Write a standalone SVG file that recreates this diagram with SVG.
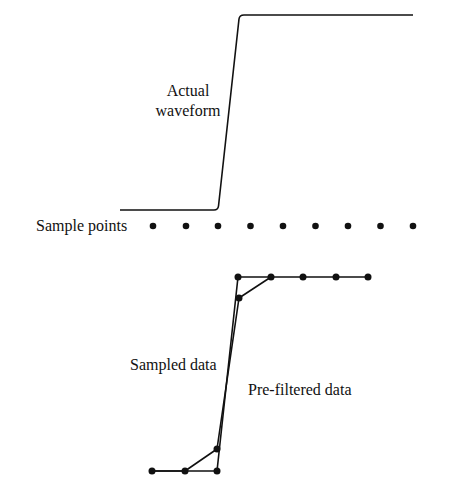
<svg xmlns="http://www.w3.org/2000/svg" width="456" height="487" viewBox="0 0 456 487">
<style>
.t{font-family:"Liberation Serif","Times New Roman",serif;font-size:16px;fill:#111}
.w{fill:none;stroke:#111;stroke-width:1.6;stroke-linejoin:round}
.d{fill:#111}
</style>
<rect width="456" height="487" fill="#fff"/>
<g id="connectors">
<path id="waveform" class="w" d="M120,210 L214,210 Q218,210 218.5,206 L239,19 Q239.5,15 244,15 L413,15"/>
<polyline id="sampled" class="w" points="152,471 217,471 238,277 368,277"/>
<polyline id="prefiltered" class="w" points="152,471 185,471 217,449 239,298 271,277"/>
</g>
<g id="sample-points">
<circle class="d" cx="153" cy="226" r="3.3"/>
<circle class="d" cx="186" cy="226" r="3.3"/>
<circle class="d" cx="218" cy="226" r="3.3"/>
<circle class="d" cx="250.5" cy="226" r="3.3"/>
<circle class="d" cx="283" cy="226" r="3.3"/>
<circle class="d" cx="315.5" cy="226" r="3.3"/>
<circle class="d" cx="348" cy="226" r="3.3"/>
<circle class="d" cx="380.5" cy="226" r="3.3"/>
<circle class="d" cx="413" cy="226" r="3.3"/>
</g>
<g id="data-points">
<circle class="d" cx="152" cy="471" r="3.5"/>
<circle class="d" cx="185" cy="471" r="3.5"/>
<circle class="d" cx="217" cy="471" r="3.5"/>
<circle class="d" cx="217" cy="449" r="3.5"/>
<circle class="d" cx="239" cy="298" r="3.5"/>
<circle class="d" cx="238" cy="277" r="3.5"/>
<circle class="d" cx="271" cy="277" r="3.5"/>
<circle class="d" cx="303" cy="277" r="3.5"/>
<circle class="d" cx="336" cy="277" r="3.5"/>
<circle class="d" cx="368" cy="277" r="3.5"/>
</g>
<g id="labels">
<text class="t" x="188" y="96" text-anchor="middle">Actual</text>
<text class="t" x="188" y="116" text-anchor="middle">waveform</text>
<text class="t" x="36" y="231">Sample points</text>
<text class="t" x="130" y="370">Sampled data</text>
<text class="t" x="248" y="395">Pre-filtered data</text>
</g>
</svg>
